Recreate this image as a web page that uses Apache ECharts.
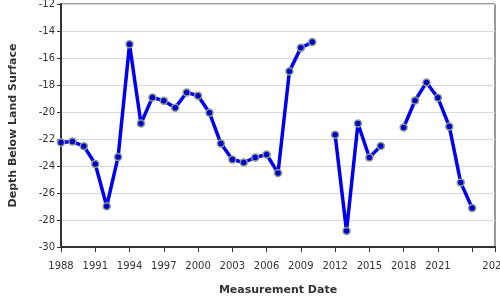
<!DOCTYPE html>
<html>
<head>
<meta charset="utf-8">
<script src="https://cdn.jsdelivr.net/npm/echarts@6/dist/echarts.min.js"></script>
<style>html,body{margin:0;padding:0;background:#fff;}#c{width:500px;height:300px;}</style>
</head>
<body>
<div id="c"></div>
<script>
var years = [1988,1989,1990,1991,1992,1993,1994,1995,1996,1997,1998,1999,2000,2001,2002,2003,2004,2005,2006,2007,2008,2009,2010,2011,2012,2013,2014,2015,2016,2017,2018,2019,2020,2021,2022,2023,2024];
var depths = [-22.26,-22.19,-22.53,-23.85,-26.98,-23.33,-14.99,-20.85,-18.92,-19.17,-19.69,-18.55,-18.80,-20.06,-22.34,-23.52,-23.74,-23.37,-23.15,-24.51,-16.99,-15.24,-14.82,null,-21.69,-28.82,-20.85,-23.37,-22.51,null,-21.15,-19.15,-17.81,-18.95,-21.07,-25.23,-27.11];
var hiddenTickLabels = [2024];

var chart = echarts.init(document.getElementById('c'), null, {renderer:'canvas'});
var data = years.map(function(y,i){ return [y, depths[i]]; });
chart.setOption({
  animation:false,
  textStyle:{fontFamily:'DejaVu Sans'},
  grid:{left:61,right:5,top:4,bottom:53,show:true,borderColor:'#333',borderWidth:1,backgroundColor:'transparent',
        containLabel:false,outerBoundsMode:'none'},
  xAxis:{
    type:'value', min:1988, max:2026, interval:3,
    name:'Measurement Date', nameLocation:'middle', nameGap:38,
    nameTextStyle:{fontWeight:'bold',fontSize:11,color:'#333',fontFamily:'DejaVu Sans'},
    axisLine:{show:true,onZero:false,lineStyle:{color:'#333',width:2}},
    axisTick:{show:true,length:5,lineStyle:{color:'#333',width:1}},
    axisLabel:{color:'#333',fontSize:10,margin:14,showMaxLabel:true,hideOverlap:false,
      formatter:function(v){ return hiddenTickLabels.indexOf(v)>=0 ? '' : String(v); }},
    splitLine:{show:false}
  },
  yAxis:{
    type:'value', min:-30, max:-12, interval:2,
    name:'Depth Below Land Surface', nameLocation:'middle', nameGap:42,
    nameTextStyle:{fontWeight:'bold',fontSize:11,color:'#333',fontFamily:'DejaVu Sans'},
    axisLine:{show:true,onZero:false,lineStyle:{color:'#333',width:2}},
    axisTick:{show:true,length:4,lineStyle:{color:'#333',width:1}},
    axisLabel:{color:'#333',fontSize:10,margin:6},
    splitLine:{show:true,lineStyle:{color:'#d8d8d8',width:1}}
  },
  series:[{
    type:'line', data:data, connectNulls:false,
    lineStyle:{color:'#0000ee',width:3.5},
    symbol:'circle', symbolSize:7,
    itemStyle:{color:'#0000cc',borderColor:'#8a9a8a',borderWidth:1.5}
  }]
});
</script>
</body>
</html>
